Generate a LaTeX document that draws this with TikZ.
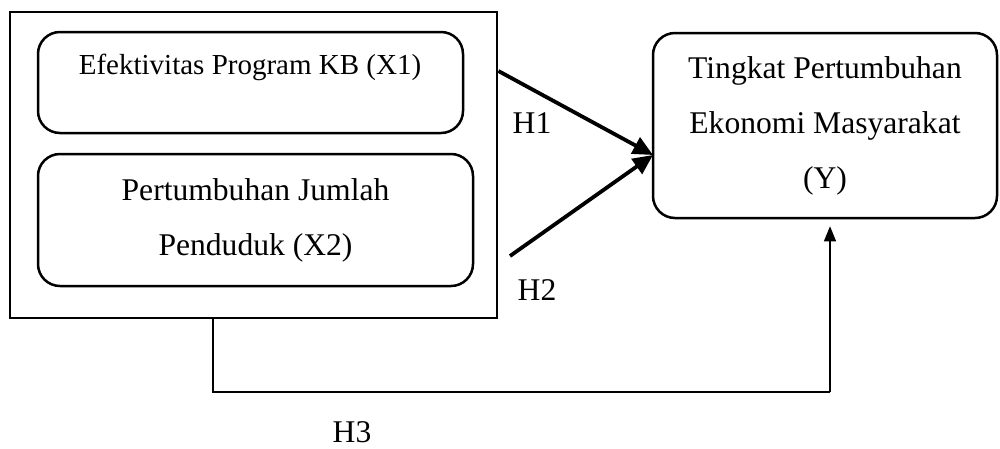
\documentclass[tikz,border=0pt]{standalone}
\usepackage{fontspec}
\setmainfont{Liberation Serif}
\usetikzlibrary{arrows.meta}
\begin{document}
\begin{tikzpicture}[x=1pt,y=-1pt,
  frame/.style={draw, line width=2.8pt, inner sep=0pt},
  rbox/.style={draw, line width=2.5pt, rounded corners=22pt, inner sep=0pt,
    align=center, font=\fontsize{31.6}{55}\selectfont},
  hyp/.style={font=\fontsize{31.6}{38}\selectfont, inner sep=0pt},
  bold arrow/.style={line width=3.8pt, -{Triangle[length=20pt,width=18pt]}},
  thin line/.style={line width=1.2pt},
  thin arrow/.style={line width=1.2pt, -{Triangle[length=15pt,width=12pt]}}]
\useasboundingbox (0,0) rectangle (1000,448);

% independent variables inside one frame
\node[frame, minimum width=487pt, minimum height=306pt] (outer) at (253.5,165) {};
\node[rbox, minimum width=425pt, minimum height=101pt] (x1) at (250.5,82.5) {};
\node[font=\fontsize{29}{35}\selectfont, inner sep=0pt] (x1text) at (250,67) {Efektivitas Program KB (X1)};
\node[rbox, minimum width=435pt, minimum height=132pt] (x2) at (255.5,220) {Pertumbuhan Jumlah\\Penduduk (X2)};

% dependent variable
\node[rbox, minimum width=344pt, minimum height=185pt] (y) at (825,125.5) {Tingkat Pertumbuhan\\Ekonomi Masyarakat\\(Y)};

% partial effects H1, H2
\coordinate (h1s) at (497,71);
\coordinate (h2s) at (510,256);
\coordinate (yin) at (653,155);
\draw[bold arrow] (outer.east |- h1s) -- (yin);
\draw[bold arrow] (h2s) -- (yin);

% joint effect H3
\coordinate (h3a) at (213,392);
\coordinate (h3b) at (830,392);
\draw[thin line] (outer.south -| h3a) -- (h3a) -- (h3b);
\draw[thin arrow, shorten >=7pt] (h3b) -- (y.south -| h3b);

% hypothesis labels
\node[hyp] (lh1) at (532,123) {H1};
\node[hyp] (lh2) at (537,290) {H2};
\node[hyp] (lh3) at (352,432) {H3};
\end{tikzpicture}
\end{document}
